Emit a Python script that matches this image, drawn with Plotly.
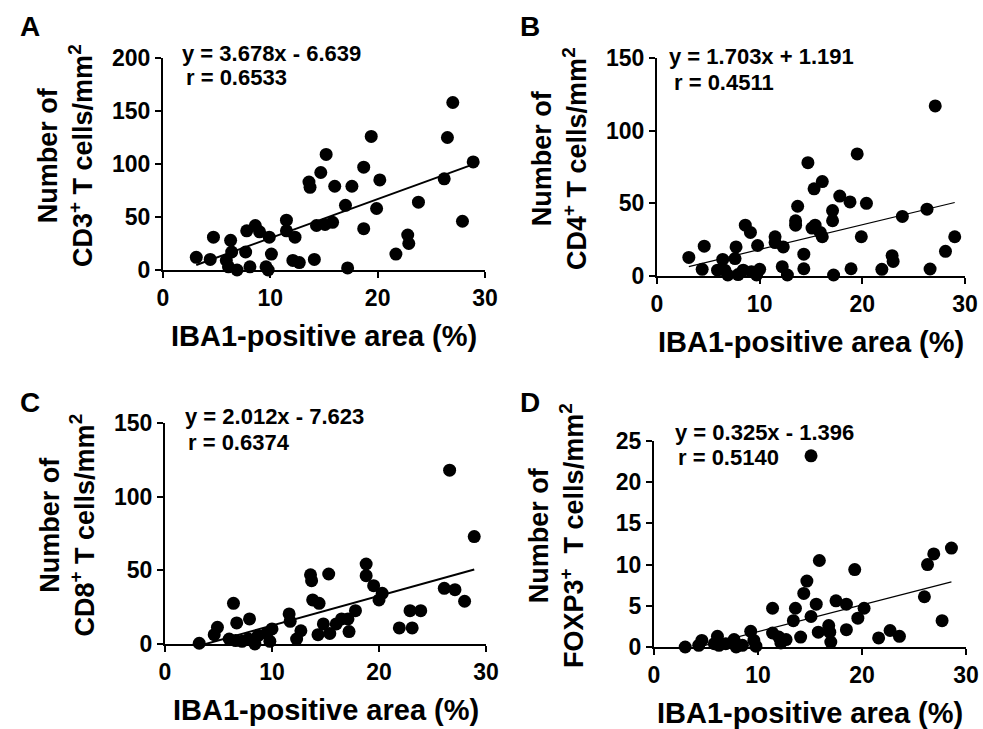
import plotly.graph_objects as go

# ---------------- data ----------------
a_x = [3.1, 4.4, 4.7, 6.3, 5.9, 6.4, 6.1, 6.9, 7.7, 7.8, 8.6, 9.0, 9.9, 8.1, 9.6, 10.1, 9.8,
       11.5, 11.5, 12.3, 12.1, 12.7, 14.1, 13.6, 13.7, 14.7, 15.2, 14.3, 15.1, 15.8, 16.0,
       17.0, 17.2, 17.6, 18.7, 18.7, 19.4, 19.9, 20.2, 21.7, 22.8, 22.9, 23.8, 26.2, 26.5,
       27.0, 27.9, 28.9]
a_y = [12, 10, 31, 28, 9, 17, 3, 0, 17, 37, 42, 36, 31, 3, 3, 15, 0,
       47, 37, 31, 9, 7, 10, 83, 78, 92, 109, 42, 43, 45, 79,
       61, 2, 79, 97, 39, 126, 58, 85, 15, 33, 25, 64, 86, 125,
       158, 46, 102]

b_x = [3.1, 4.6, 4.4, 5.9, 6.4, 6.6, 6.9, 7.6, 7.7, 7.9, 8.4, 8.6, 9.1, 9.2, 9.8, 9.7, 10.0,
       11.5, 11.5, 12.3, 12.2, 12.7, 13.7, 13.5, 13.5, 14.3, 14.3, 14.7, 15.1, 15.3, 15.4,
       15.9, 16.1, 16.1, 17.1, 17.1, 17.2, 17.8, 18.8, 18.9, 19.5, 19.9, 20.4, 21.9, 22.9,
       23.0, 23.9, 26.3, 26.6, 27.1, 28.1, 29.0]
b_y = [12.8, 20.5, 4.6, 4, 11.4, 4, 0.7, 12, 20, 1, 4, 35, 30, 3, 21, 0.7, 4.6,
       27, 23, 20, 6.4, 0.7, 48, 38, 35, 15, 5, 78, 33, 60, 35,
       30, 27, 65, 45, 38, 0.7, 55, 51, 5, 84, 27, 50, 4.6, 14,
       10, 41, 46, 4.8, 117, 17, 27]

c_x = [3.2, 4.6, 4.9, 6.0, 6.4, 6.7, 6.6, 7.2, 7.9, 7.8, 8.4, 8.7, 9.5, 9.8, 10.0,
       11.6, 11.7, 12.3, 12.7, 13.6, 13.7, 13.8, 14.4, 14.3, 14.8, 15.3, 15.4, 16.0,
       16.5, 17.1, 17.2, 17.8, 18.8, 18.8, 19.5, 20.0, 20.3, 21.9, 23.1, 22.9, 23.9,
       26.1, 26.6, 27.1, 28.0, 28.9]
c_y = [0.5, 6.3, 11.3, 3.4, 27.6, 14.3, 2.3, 1.8, 17, 3.4, 0, 5.7, 7.2, 1.8, 10.2,
       20.4, 15.4, 3.4, 9, 47, 43, 29.9, 27.6, 6.3, 13.6, 47.5, 7.2, 13.6,
       17, 17, 8.4, 22.6, 54.3, 46.4, 39.6, 29.9, 34.4, 10.9, 10.9, 22.6, 22.6,
       37.8, 118, 36.9, 29, 72.9]

d_x = [3.0, 4.3, 4.6, 5.8, 6.1, 6.25, 6.9, 7.7, 7.9, 8.5, 9.3, 9.6, 9.8, 11.4, 11.4,
       12.0, 12.2, 12.7, 13.4, 13.6, 14.1, 14.4, 14.7, 15.1, 15.1, 15.6, 15.8, 15.9,
       16.8, 16.9, 17.0, 17.5, 18.5, 18.5, 19.3, 19.6, 20.2, 21.6, 22.7, 23.6, 26.0,
       26.3, 26.9, 27.7, 28.6]
d_y = [0, 0.2, 0.8, 0.4, 1.3, 0.2, 0.4, 0.9, 0, 0.2, 1.9, 0.8, 0.1, 4.7, 1.7,
       1.2, 0.5, 0.9, 3.2, 4.7, 1.2, 6.5, 8, 23.2, 3.7, 5.2, 1.8, 10.5,
       2.6, 1.8, 0.6, 5.6, 5.2, 2.1, 9.4, 3.5, 4.7, 1.1, 2, 1.3, 6.1,
       10, 11.3, 3.2, 12]

panel_letters = ["A", "B", "C", "D"]
cell_types = ["CD3", "CD4", "CD8", "FOXP3"]
slopes = [3.678, 1.703, 2.012, 0.325]
intercepts = [-6.639, 1.191, -7.623, -1.396]
equations = ["y = 3.678x - 6.639", "y = 1.703x + 1.191", "y = 2.012x - 7.623", "y = 0.325x - 1.396"]
r_values = ["r = 0.6533", "r = 0.4511", "r = 0.6374", "r = 0.5140"]
x_ticks = [0, 10, 20, 30]
y_ticks = [[0, 50, 100, 150, 200], [0, 50, 100, 150], [0, 50, 100, 150], [0, 5, 10, 15, 20, 25]]
x_title = "IBA1-positive area (%)"

# ---------------- layout geometry (pixels) ----------------
W, H = 983, 729
# (left, right, top, bottom) of each plot area in pixels
boxes = [(163, 485, 58, 270), (657, 965, 58, 276), (165, 486, 423, 644), (654, 966, 441, 647)]
letter_pos = [(30, 27), (530, 27), (30, 402), (530, 402)]
eq_pos = [(180, 53, 184, 77), (667, 57, 672, 82), (183, 416, 186, 442), (673, 432, 676, 457)]
line_w = [2, 1.2, 2, 1.2]

xs = [a_x, b_x, c_x, d_x]
ys = [a_y, b_y, c_y, d_y]

FONT = "Liberation Sans, Arial, sans-serif"
fig = go.Figure()
annotations = []

def px(x):
    return x / W

def py(y):
    return 1 - y / H

for i in range(4):
    n = i + 1
    xa = "x" if n == 1 else f"x{n}"
    ya = "y" if n == 1 else f"y{n}"
    l, r, t, b = boxes[i]
    fig.add_trace(go.Scatter(x=xs[i], y=ys[i], mode="markers", xaxis=xa, yaxis=ya,
                             marker=dict(color="black", size=13, symbol="circle"),
                             cliponaxis=False, showlegend=False, hoverinfo="skip"))
    x0, x1 = min(xs[i]), max(xs[i])
    fig.add_trace(go.Scatter(x=[x0, x1], y=[slopes[i] * x0 + intercepts[i], slopes[i] * x1 + intercepts[i]],
                             mode="lines", xaxis=xa, yaxis=ya,
                             line=dict(color="black", width=line_w[i]),
                             cliponaxis=False, showlegend=False, hoverinfo="skip"))
    xk = "xaxis" if n == 1 else f"xaxis{n}"
    yk = "yaxis" if n == 1 else f"yaxis{n}"
    yt = y_ticks[i]
    fig.layout[xk] = dict(domain=[px(l), px(r)], range=[0, 30], anchor=ya, automargin=False,
                          tickvals=x_ticks, ticktext=[str(v) for v in x_ticks],
                          showline=True, linecolor="black", linewidth=2,
                          ticks="outside", ticklen=6, tickwidth=2, tickcolor="black",
                          showgrid=False, zeroline=False,
                          tickfont=dict(family=FONT, size=23, color="black", weight="bold"))
    fig.layout[yk] = dict(domain=[py(b), py(t)], range=[0, yt[-1]], anchor=xa, automargin=False,
                          tickvals=yt, ticktext=[str(v) for v in yt],
                          showline=True, linecolor="black", linewidth=2,
                          ticks="outside", ticklen=6, tickwidth=2, tickcolor="black",
                          showgrid=False, zeroline=False,
                          tickfont=dict(family=FONT, size=23, color="black", weight="bold"))
    # panel letter
    lx, ly = letter_pos[i]
    annotations.append(dict(x=px(lx), y=py(ly), xref="paper", yref="paper", text=panel_letters[i],
                            showarrow=False, xanchor="center", yanchor="middle",
                            font=dict(family=FONT, size=28, color="black", weight="bold")))
    # equation texts
    ex, ey, rx, ry = eq_pos[i]
    annotations.append(dict(x=px(ex), y=py(ey), xref="paper", yref="paper", text=equations[i],
                            showarrow=False, xanchor="left", yanchor="middle",
                            font=dict(family=FONT, size=22, color="black", weight="bold")))
    annotations.append(dict(x=px(rx), y=py(ry), xref="paper", yref="paper", text=r_values[i],
                            showarrow=False, xanchor="left", yanchor="middle",
                            font=dict(family=FONT, size=22, color="black", weight="bold")))
    # x title
    annotations.append(dict(x=px((l + r) / 2), y=py(b + 66), xref="paper", yref="paper", text=x_title,
                            showarrow=False, xanchor="center", yanchor="middle",
                            font=dict(family=FONT, size=29, color="black", weight="bold")))
    # y title
    gap = "&nbsp;&nbsp;" if cell_types[i] == "FOXP3" else "&nbsp;"
    ytxt = f"Number of<br>{cell_types[i]}<sup>+</sup>{gap}T cells/mm<sup>2</sup>"
    annotations.append(dict(x=px(l - 98), y=py((t + b) / 2 - 8), xref="paper", yref="paper", text=ytxt,
                            showarrow=False, xanchor="center", yanchor="middle", textangle=-90,
                            font=dict(family=FONT, size=27, color="black", weight="bold")))

fig.update_layout(width=W, height=H, margin=dict(l=0, r=0, t=0, b=0, pad=0),
                  paper_bgcolor="white", plot_bgcolor="white",
                  annotations=annotations, showlegend=False)
fig.write_html("out.html", config={"displayModeBar": False},
               post_script="document.body.style.margin='0';document.body.style.padding='0';"
                           "document.body.style.overflow='hidden';")
